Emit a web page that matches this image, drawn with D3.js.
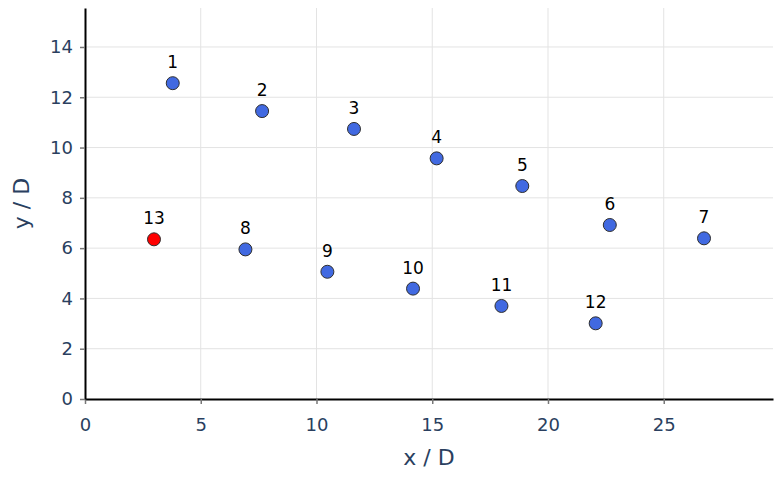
<!DOCTYPE html>
<html>
<head>
<meta charset="utf-8">
<script src="https://cdn.jsdelivr.net/npm/d3@7"></script>
<style>
  body { margin: 0; background: #fff; }
  text { font-family: "DejaVu Sans", Verdana, sans-serif; }
</style>
</head>
<body>
<div id="wrapper"></div>
<script>
// point data
const pointLabels = ["1", "2", "3", "4", "5", "6", "7", "8", "9", "10", "11", "12", "13"]
const xValues = [3.79, 7.65, 11.62, 15.19, 18.89, 22.67, 26.74, 6.93, 10.47, 14.17, 17.99, 22.06, 2.98]
const yValues = [12.56, 11.45, 10.74, 9.57, 8.47, 6.92, 6.39, 5.95, 5.06, 4.39, 3.70, 3.01, 6.35]
const highlighted = ["13"]
const xTicks = [0, 5, 10, 15, 20, 25]
const yTicks = [0, 2, 4, 6, 8, 10, 12, 14]
const xDomain = [0, 29.72]
const yDomain = [0, 15.55]

function drawScatter() {
  const dataset = pointLabels.map((label, i) => ({ label: label, x: xValues[i], y: yValues[i] }))

  let dimensions = {
    width: 782,
    height: 478,
    margin: {
      top: 8,
      right: 9,
      bottom: 79,
      left: 85,
    },
  }
  dimensions.boundedWidth = dimensions.width - dimensions.margin.left - dimensions.margin.right
  dimensions.boundedHeight = dimensions.height - dimensions.margin.top - dimensions.margin.bottom

  const wrapper = d3.select("#wrapper")
    .append("svg")
    .attr("width", dimensions.width)
    .attr("height", dimensions.height)

  const bounds = wrapper.append("g")
    .attr("transform", `translate(${dimensions.margin.left},${dimensions.margin.top})`)

  const xScaler = d3.scaleLinear()
    .domain(xDomain)
    .range([0, dimensions.boundedWidth])

  const yScaler = d3.scaleLinear()
    .domain(yDomain)
    .range([dimensions.boundedHeight, 0])

  // grid
  bounds.append("g")
    .selectAll("line")
    .data(xTicks.filter(d => d > 0))
    .join("line")
    .attr("x1", d => xScaler(d))
    .attr("x2", d => xScaler(d))
    .attr("y1", 0)
    .attr("y2", dimensions.boundedHeight)
    .attr("stroke", "#e3e3e3")
    .attr("stroke-width", 1)

  bounds.append("g")
    .selectAll("line")
    .data(yTicks.filter(d => d > 0))
    .join("line")
    .attr("x1", 0)
    .attr("x2", dimensions.boundedWidth)
    .attr("y1", d => yScaler(d))
    .attr("y2", d => yScaler(d))
    .attr("stroke", "#e3e3e3")
    .attr("stroke-width", 1)

  // axes
  const xAxisGenerator = d3.axisBottom(xScaler)
    .tickValues(xTicks)
    .tickSize(5)
    .tickSizeOuter(0)
    .tickPadding(14)

  const yAxisGenerator = d3.axisLeft(yScaler)
    .tickValues(yTicks)
    .tickSize(5)
    .tickSizeOuter(0)
    .tickPadding(7)

  const xAxis = bounds.append("g")
    .attr("transform", `translate(0,${dimensions.boundedHeight})`)
    .call(xAxisGenerator)

  const yAxis = bounds.append("g")
    .call(yAxisGenerator)

  ;[xAxis, yAxis].forEach(axis => {
    axis.select(".domain").attr("stroke", "#000").attr("stroke-width", 2)
    axis.selectAll(".tick line").attr("stroke", "#777").attr("stroke-width", 1.5)
    axis.selectAll(".tick text")
      .attr("fill", "#2a3f5f")
      .style("font-size", "18px")
      .style("font-family", '"DejaVu Sans", Verdana, sans-serif')
  })

  // axis titles
  bounds.append("text")
    .attr("x", dimensions.boundedWidth / 2)
    .attr("y", dimensions.boundedHeight + 66)
    .attr("text-anchor", "middle")
    .attr("fill", "#2a3f5f")
    .style("font-size", "22px")
    .text("x / D")

  bounds.append("text")
    .attr("transform", `translate(${29 - dimensions.margin.left},${dimensions.boundedHeight / 2}) rotate(-90)`)
    .attr("text-anchor", "middle")
    .attr("fill", "#2a3f5f")
    .style("font-size", "22px")
    .text("y / D")

  // points
  bounds.append("g")
    .selectAll("circle")
    .data(dataset)
    .join("circle")
    .attr("cx", d => xScaler(d.x))
    .attr("cy", d => yScaler(d.y))
    .attr("r", 6.5)
    .attr("fill", d => highlighted.includes(d.label) ? "#ff0000" : "#4169e1")
    .attr("stroke", "#2f2f2f")
    .attr("stroke-width", 1)

  bounds.append("g")
    .selectAll("text")
    .data(dataset)
    .join("text")
    .attr("x", d => xScaler(d.x))
    .attr("y", d => yScaler(d.y) - 15)
    .attr("text-anchor", "middle")
    .attr("fill", "#000")
    .style("font-size", "17px")
    .text(d => d.label)
}
drawScatter()
</script>
</body>
</html>
